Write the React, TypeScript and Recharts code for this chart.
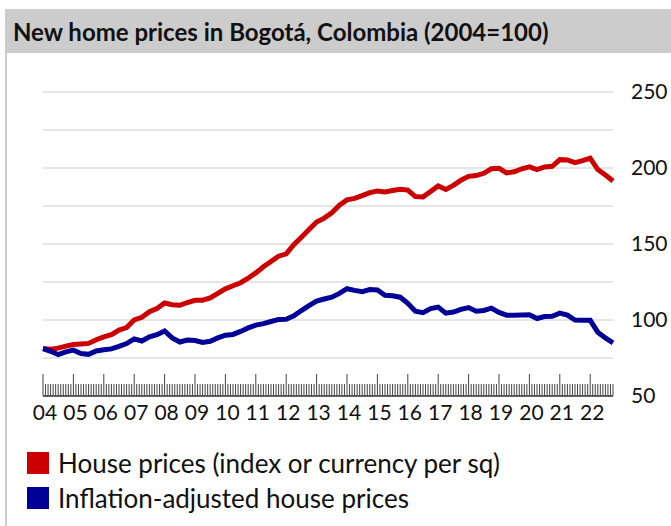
import { LineChart, Line, XAxis, YAxis, CartesianGrid } from 'recharts'

// quarterly readings, Q1 2004 .. Q4 2022 (index, 2004=100)
const housePrices = [
  81.2, 80.8, 81.5, 82.8, 83.9, 84.2, 84.6, 87, 88.9, 90.3,
  93.4, 95, 100, 101.8, 105.5, 107.5, 111.2, 110, 109.7, 111.5,
  113, 113, 114.5, 117.5, 120.5, 122.5, 124.5, 127.5, 131, 135,
  138.5, 142, 143.5, 149.5, 154.5, 159.5, 164.5, 167, 170.5, 175.5,
  179, 180, 181.8, 183.8, 184.8, 184.3, 185.2, 186, 185.5, 181.2,
  181, 184.5, 188.2, 185.9, 188.6, 192, 194.5, 195, 196.5, 199.5,
  199.8, 196.8, 197.5, 199.5, 200.8, 199, 200.7, 201.1, 205.5, 205.3,
  203.5, 204.8, 206.5, 199, 195.4, 191.5,
]

const realPrices = [
  81.2, 79.4, 77.3, 79, 80.2, 78, 77.4, 79.6, 80.4, 81,
  82.6, 84.5, 87.6, 86.2, 88.9, 90.3, 92.8, 88.2, 85.5, 86.8,
  86.5, 85.2, 86, 88.2, 90, 90.5, 92.5, 94.8, 96.6, 97.6,
  99, 100.4, 100.5, 102.7, 106.2, 109.5, 112.4, 113.8, 115, 117.5,
  120.6, 119.5, 118.6, 120, 119.8, 116.3, 116, 115, 111, 105.8,
  104.8, 107.5, 108.5, 104.5, 105.2, 107, 108.2, 105.8, 106.3, 107.8,
  105, 103.2, 103.1, 103.3, 103.5, 101, 102.3, 102.5, 104.5, 103.2,
  100, 99.8, 99.8, 92, 88.2, 85,
]

const yearLabels = ['04', '05', '06', '07', '08', '09', '10', '11', '12', '13', '14', '15', '16', '17', '18', '19', '20', '21', '22']
const yTicks = [50, 75, 100, 125, 150, 175, 200, 225, 250]

const LAST_MONTH = 225
const monthTicks = Array.from({ length: LAST_MONTH + 1 }, (_, i) => i)

const data = housePrices.map((v, i) => ({ month: i * 3, nominal: v, real: realPrices[i] }))

const FONT = 'Lato, "Open Sans", sans-serif'

function MonthTick({ x, y, payload }: any) {
  const m = payload.value as number
  const isYear = m % 12 === 0
  const label = isYear ? yearLabels[m / 12] : null
  return (
    <g>
      <line x1={x} x2={x} y1={y} y2={y - (isYear ? 22 : 12)} stroke="#444" strokeWidth={1} />
      {label && (
        <text x={x + 2} y={y + 24} textAnchor="middle" fontSize={21} fill="#111" fontFamily={FONT}>
          {label}
        </text>
      )}
    </g>
  )
}

function LegendRow({ color, text, top }: { color: string; text: string; top: number }) {
  return (
    <div style={{ position: 'absolute', left: 27, top, display: 'flex', alignItems: 'center' }}>
      <div style={{ width: 22, height: 22, background: color, marginRight: 9 }} />
      <span style={{ fontSize: 26, color: '#111', lineHeight: '22px' }}>{text}</span>
    </div>
  )
}

export default function App() {
  return (
    <div style={{ position: 'absolute', left: 0, top: 0, width: 671, height: 526, background: '#fff', fontFamily: FONT, overflow: 'hidden' }}>
      <div style={{ position: 'absolute', left: 5, top: 9, width: 2, height: 517, background: '#cccccc' }} />
      <div
        style={{
          position: 'absolute', left: 5, top: 9, width: 666, height: 44, background: '#cccccc',
          display: 'flex', alignItems: 'center', paddingLeft: 8, boxSizing: 'border-box',
          fontWeight: 700, fontSize: 24, color: '#111',
        }}
      >
        New home prices in Bogotá, Colombia (2004=100)
      </div>

      <div style={{ position: 'absolute', left: 0, top: 0 }}>
        <LineChart width={671} height={440} data={data} margin={{ top: 92, right: 0, left: 43, bottom: 0 }}>
          <CartesianGrid vertical={false} stroke="#dcdcdc" strokeWidth={1.5} />
          <XAxis
            dataKey="month"
            type="number"
            domain={[0, LAST_MONTH]}
            ticks={monthTicks}
            interval={0}
            height={44}
            tickSize={0}
            tickMargin={0}
            tickLine={false}
            axisLine={{ stroke: '#333', strokeWidth: 1.5 }}
            tick={<MonthTick />}
          />
          <YAxis
            orientation="right"
            domain={[50, 250]}
            ticks={yTicks}
            width={58}
            axisLine={false}
            tickLine={false}
            tick={{ fontSize: 21, fill: '#111', fontFamily: FONT, dx: 10 }}
            tickFormatter={(v: number) => (v % 50 === 0 ? String(v) : '')}
          />
          <Line type="linear" dataKey="nominal" stroke="#cc0000" strokeWidth={5} dot={false} isAnimationActive={false} />
          <Line type="linear" dataKey="real" stroke="#000099" strokeWidth={5} dot={false} isAnimationActive={false} />
        </LineChart>
      </div>

      <LegendRow color="#cc0000" text="House prices (index or currency per sq)" top={452} />
      <LegendRow color="#000099" text="Inflation-adjusted house prices" top={487} />
    </div>
  )
}
